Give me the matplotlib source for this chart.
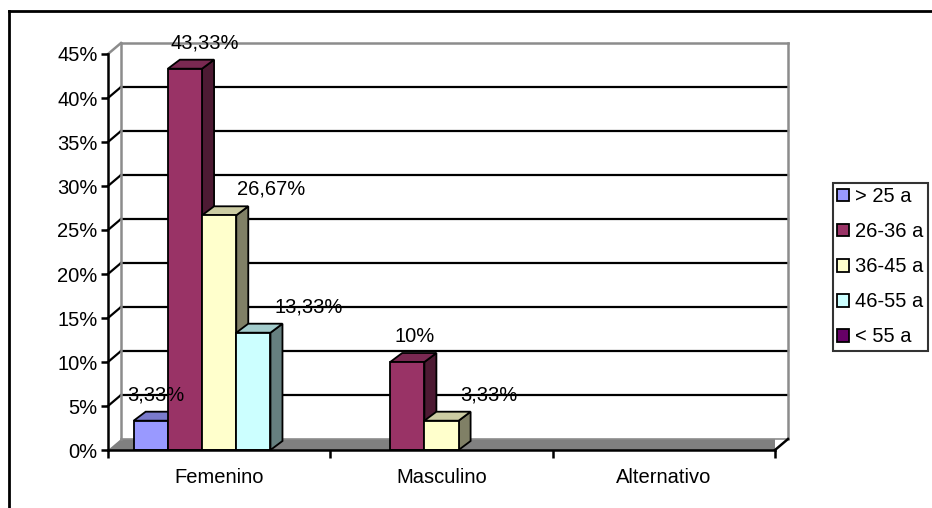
import matplotlib
matplotlib.use("Agg")
import matplotlib.pyplot as plt
from matplotlib.patches import Polygon, Patch
from matplotlib.lines import Line2D
import numpy as np

plt.rcParams['font.family'] = ['Liberation Sans', 'DejaVu Sans']

categories = ['Femenino', 'Masculino', 'Alternativo']
series = ['> 25 a', '26-36 a', '36-45 a', '46-55 a', '< 55 a']
values = {
    '> 25 a':  [3.33, 0, 0],
    '26-36 a': [43.33, 10, 0],
    '36-45 a': [26.67, 3.33, 0],
    '46-55 a': [13.33, 0, 0],
    '< 55 a':  [0, 0, 0],
}
colors = ['#9999FF', '#993366', '#FFFFCC', '#CCFFFF', '#660066']
y_ticks = [0, 5, 10, 15, 20, 25, 30, 35, 40, 45]

# label x-shift in px (excel puts them a bit to the right)
label_dx_px = {('> 25 a', 0): 5, ('26-36 a', 0): 20, ('36-45 a', 0): 52,
               ('46-55 a', 0): 55, ('26-36 a', 1): 7, ('36-45 a', 1): 47}

FS = 14.5
W, H, DPI = 932, 508, 100
fig = plt.figure(figsize=(W / DPI, H / DPI), dpi=DPI)
x0, x1, yb, yt = 108, 775, 450, 54
ax = fig.add_axes([x0 / W, 1 - yb / H, (x1 - x0) / W, (yb - yt) / H])
ax.set_xlim(0, 3)
ax.set_ylim(0, 45)

sx = 3 / (x1 - x0)   # data per px
sy = 45 / (yb - yt)

def shade(c, f):
    rgb = np.array(matplotlib.colors.to_rgb(c))
    return tuple(rgb * f)

# walls / floor
fdx, fdy = 13 * sx, 11 * sy
floor = Polygon([(0, 0), (3, 0), (3 + fdx, fdy), (fdx, fdy)], closed=True,
                facecolor='#808080', edgecolor='none', zorder=1)
ax.add_patch(floor)
for t in y_ticks[1:-1]:
    ax.plot([fdx, 3 + fdx], [t + fdy, t + fdy], color='black', lw=1.6, zorder=1, clip_on=False)
    ax.plot([0, fdx], [t, t + fdy], color='black', lw=1.6, zorder=1, clip_on=False)
grey = '#8c8c8c'
ax.plot([fdx, fdx], [fdy, 45 + fdy], color=grey, lw=1.8, zorder=1, clip_on=False)
ax.plot([3 + fdx, 3 + fdx], [fdy, 45 + fdy], color=grey, lw=1.8, zorder=1, clip_on=False)
ax.plot([fdx, 3 + fdx], [45 + fdy, 45 + fdy], color=grey, lw=1.8, zorder=1, clip_on=False)
ax.plot([0, fdx], [45, 45 + fdy], color=grey, lw=1.8, zorder=1, clip_on=False)
ax.plot([fdx, 3 + fdx], [fdy, fdy], color=grey, lw=1.2, zorder=1, clip_on=False)
ax.plot([3, 3 + fdx], [0, fdy], color='black', lw=1.8, zorder=2, clip_on=False)

# bars
w = 1 / 6.5
bdx, bdy = 12 * sx, 9 * sy
for ci in range(len(categories)):
    for si, s in enumerate(series):
        h = values[s][ci]
        if h <= 0:
            continue
        left = ci + 0.75 * w + si * w
        right = left + w
        c = colors[si]
        side = Polygon([(right, 0), (right + bdx, bdy), (right + bdx, h + bdy), (right, h)],
                       facecolor=shade(c, 0.5), edgecolor='black', lw=1.3, zorder=3, clip_on=False)
        top = Polygon([(left, h), (left + bdx, h + bdy), (right + bdx, h + bdy), (right, h)],
                      facecolor=shade(c, 0.8), edgecolor='black', lw=1.3, zorder=3, clip_on=False)
        ax.add_patch(side)
        ax.add_patch(top)
        ax.bar(left, h, width=w, align='edge', color=c, edgecolor='black', lw=1.3,
               zorder=3, clip_on=False)
        lab = ('%.2f' % h).replace('.', ',') + '%'
        if lab.endswith(',00%'):
            lab = lab.replace(',00', '')
        ax.annotate(lab, (left + w / 2, h), xytext=(label_dx_px.get((s, ci), 10) * 0.72, 26 * 0.72),
                    textcoords='offset points', ha='center', va='center', fontsize=FS, zorder=5)

# axes
for sp in ['top', 'right']:
    ax.spines[sp].set_visible(False)
ax.spines['left'].set_linewidth(1.8)
ax.spines['bottom'].set_linewidth(1.8)
ax.spines['left'].set_zorder(4)
ax.spines['bottom'].set_zorder(4)
ax.set_yticks(y_ticks, [f'{t}%' for t in y_ticks])
ax.tick_params(axis='y', length=5, width=1.8, labelsize=FS, pad=2.5)
ax.set_xticks([0.5, 1.5, 2.5], categories)
ax.tick_params(axis='x', which='major', length=0, labelsize=FS, pad=13)
ax.set_xticks([0, 1, 2, 3], minor=True)
ax.tick_params(axis='x', which='minor', length=6, width=1.8)
ax.patch.set_visible(False)

# legend
handles = [Patch(facecolor=c, edgecolor='black', lw=1.3) for c in colors]
leg = fig.legend(handles, series, loc='upper left', bbox_to_anchor=(833 / W, 1 - 183 / H),
                 frameon=True, fancybox=False, fontsize=FS, handlelength=0.6, handleheight=0.6,
                 handletextpad=0.3, labelspacing=0.8, borderpad=0.2, borderaxespad=0)
leg.get_frame().set_edgecolor('black')
leg.get_frame().set_linewidth(1.5)

# outer chart border (only left/top visible)
fig.add_artist(Line2D([9 / W, 9 / W], [0, 1 - 11 / H], color='black', lw=2))
fig.add_artist(Line2D([9 / W, 1], [1 - 11 / H, 1 - 11 / H], color='black', lw=2))

fig.savefig('out.png', dpi=DPI)
